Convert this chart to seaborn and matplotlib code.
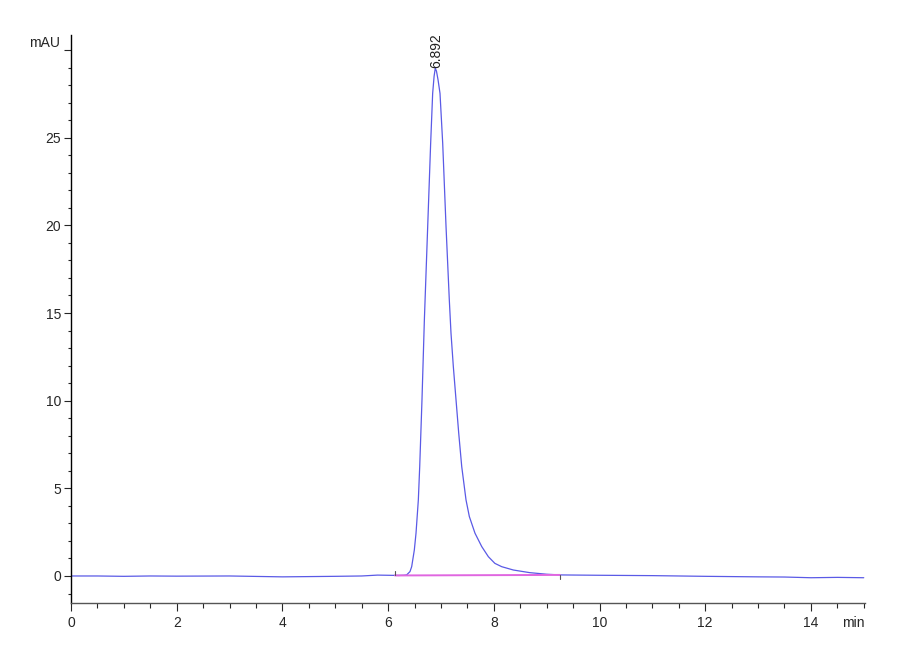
import matplotlib
matplotlib.use("Agg")
import matplotlib.pyplot as plt
from matplotlib.ticker import MultipleLocator
import seaborn as sns
import pandas as pd

# Chromatogram trace (time in min, signal in mAU)
time_min = [0.0, 0.5, 1.0, 1.5, 2.0, 3.0, 4.0, 5.0, 5.5, 5.8, 6.0, 6.2,
            6.3, 6.35, 6.414, 6.446, 6.496, 6.528, 6.572, 6.598, 6.641,
            6.686, 6.749, 6.805, 6.843, 6.87, 6.892, 6.915, 6.945, 6.982,
            7.033, 7.096, 7.158, 7.19, 7.234, 7.285, 7.336, 7.393, 7.474,
            7.537, 7.644, 7.771, 7.897, 8.02, 8.15, 8.37, 8.68, 9.0, 9.25,
            10.0, 11.0, 12.0, 13.0, 13.5, 14.0, 14.5, 15.0]
signal_mau = [0.0, 0.0, -0.02, 0.0, -0.01, 0.0, -0.05, -0.02, 0.0, 0.05,
              0.04, 0.03, 0.04, 0.06, 0.25, 0.53, 1.48, 2.44, 4.34, 6.24,
              10.05, 14.6, 19.93, 24.68, 27.53, 28.5, 28.96, 28.8, 28.3,
              27.53, 24.68, 19.93, 15.75, 13.85, 11.95, 10.05, 8.15, 6.24,
              4.34, 3.39, 2.44, 1.68, 1.10, 0.72, 0.53, 0.34, 0.19, 0.10,
              0.06, 0.04, 0.02, -0.02, -0.05, -0.06, -0.1, -0.08, -0.1]

# integration baseline (start / end of peak)
base_t = [6.13, 9.25]
base_y = [0.03, 0.06]

peak_rt = 6.892
peak_height = 28.96

df = pd.DataFrame({"time": time_min, "signal": signal_mau})

sns.set_style("ticks")
plt.rcParams['font.family'] = ['Liberation Sans', 'DejaVu Sans']

fig = plt.figure(figsize=(9, 6.6), dpi=100)
ax = fig.add_axes([0.0789, 0.0864, 0.882, 0.8606])

sns.lineplot(data=df, x="time", y="signal", ax=ax, color="#5a5ae6",
             linewidth=0.9, sort=False)
ax.plot(base_t, base_y, color="#e066e0", linewidth=1.4)
# start / end marks of integration
ax.plot([base_t[0], base_t[0]], [base_y[0], base_y[0] + 0.25],
        color="#555555", linewidth=0.8)
ax.plot([base_t[1], base_t[1]], [base_y[1], base_y[1] - 0.25],
        color="#555555", linewidth=0.8)

ax.text(peak_rt + 0.02, peak_height, f"{peak_rt:.3f}", rotation=90,
        ha="center", va="bottom", fontsize=10, color="#222222")

ax.set_xlim(0, 15.02)
ax.set_ylim(-1.54, 30.86)
ax.xaxis.set_minor_locator(MultipleLocator(0.5))
ax.set_xticks([0, 2, 4, 6, 8, 10, 12, 14])
ax.set_yticks([0, 5, 10, 15, 20, 25, 30])
ax.set_yticklabels(["0", "5", "10", "15", "20", "25", ""])
ax.yaxis.set_minor_locator(MultipleLocator(1))

ax.tick_params(axis="y", which="major", length=5, width=0.8, pad=2,
               labelsize=10)
ax.tick_params(axis="y", which="minor", length=2.2, width=0.8)
ax.tick_params(axis="x", which="major", length=6, width=0.8, pad=3.5,
               labelsize=10)
ax.tick_params(axis="x", which="minor", length=3.6, width=0.8)

ax.text(-0.2, 30.4, "mAU", ha="right", va="center", fontsize=10)
ax.text(15.02, -2.3, "min", ha="right", va="top", fontsize=10,
        clip_on=False)

ax.set_xlabel("")
ax.set_ylabel("")
sns.despine(ax=ax)
ax.spines["left"].set_color("black")
ax.spines["bottom"].set_color("#555555")
ax.spines["left"].set_linewidth(1.0)
ax.spines["bottom"].set_linewidth(1.0)

fig.savefig("out.png", dpi=100)
